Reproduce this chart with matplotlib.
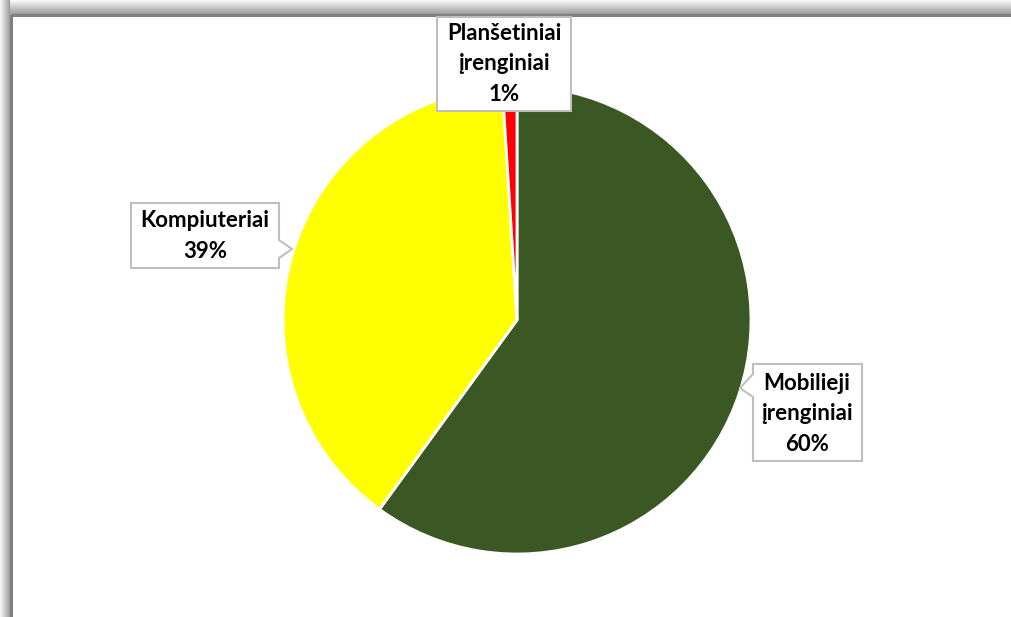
import numpy as np
import matplotlib
matplotlib.use("Agg")
import matplotlib.pyplot as plt
from matplotlib.patches import Polygon

# Data
labels = ["Mobilieji\nįrenginiai", "Kompiuteriai", "Planšetiniai\nįrenginiai"]
shares = [60, 39, 1]
colors = ["#3A5724", "#FFFF00", "#FF0000"]

W, H = 1012, 617
fig = plt.figure(figsize=(W / 100, H / 100), dpi=100)
ax = fig.add_axes([0, 0, 1, 1])
ax.set_xlim(0, W)
ax.set_ylim(H, 0)
ax.set_aspect("equal")
ax.axis("off")

# frame shadow on top and left
grad = np.linspace(0.97, 0.62, 14)
top = np.tile(grad[:, None], (1, 10))
ax.imshow(top, cmap="gray", vmin=0, vmax=1, extent=(0, W, 14, 0), aspect="auto", zorder=0)
left = np.tile(grad[None, :], (10, 1))
ax.imshow(left, cmap="gray", vmin=0, vmax=1, extent=(0, 10, H, 0), aspect="auto", zorder=0)
ax.plot([11, 11, W], [H, 15, 15], color="#7F7F7F", lw=2.2, solid_capstyle="butt", zorder=1)

# pie
wedges, _ = ax.pie(shares, colors=colors, startangle=90, counterclock=False,
                   center=(517, 320), radius=234,
                   wedgeprops=dict(edgecolor="white", linewidth=2))
# y axis is inverted, so mirror the pie to keep clockwise order on screen
for w in wedges:
    w.theta1, w.theta2 = -w.theta2, -w.theta1
    w._recompute_path()
ax.set_xlim(0, W)
ax.set_ylim(H, 0)

font = dict(family="Lato", fontweight="bold", fontsize=16, color="black",
            ha="center", va="center", linespacing=1.55)


def callout(x0, y0, x1, y1, pointer=None):
    pts = [(x0, y0), (x1, y0)]
    if pointer and pointer[0] == "right":
        _, a, b, tip = pointer
        pts += [(x1, a), tip, (x1, b)]
    pts += [(x1, y1), (x0, y1)]
    if pointer and pointer[0] == "left":
        _, a, b, tip = pointer
        pts += [(x0, b), tip, (x0, a)]
    ax.add_patch(Polygon(pts, closed=True, facecolor="white", edgecolor="#BFBFBF",
                         lw=1.5, zorder=3))


# Mobilieji
callout(753, 364, 862, 461, ("left", 374, 397, (740, 388)))
ax.text(807, 414, f"{labels[0]}\n{shares[0]}%", zorder=4, **font)

# Kompiuteriai
callout(131, 203, 279, 268, ("right", 240, 258, (292, 249)))
ax.text(205, 236, f"{labels[1]}\n{shares[1]}%", zorder=4, **font)

# Planšetiniai
callout(437, 17, 571, 111)
ax.text(504, 64, f"{labels[2]}\n{shares[2]}%", zorder=4, **font)

fig.savefig("out.png", dpi=100, facecolor="white")
